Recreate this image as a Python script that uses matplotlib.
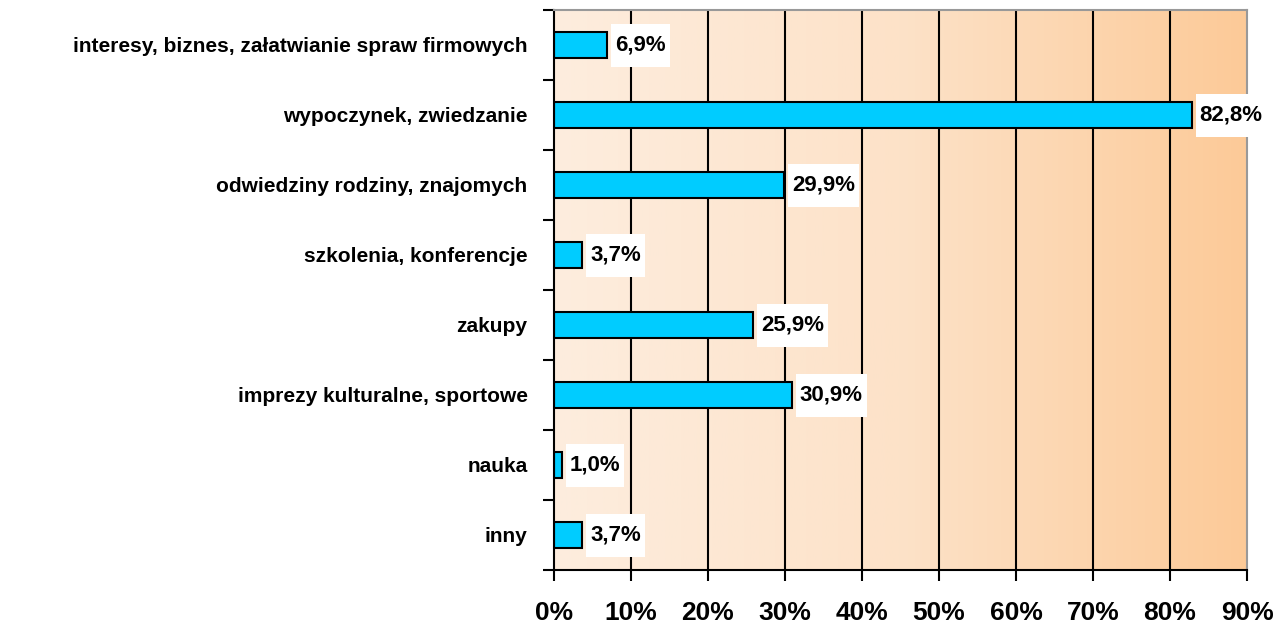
import numpy as np
import matplotlib.pyplot as plt
from matplotlib.colors import LinearSegmentedColormap
from matplotlib.patches import Rectangle
from matplotlib.transforms import IdentityTransform

plt.rcParams['font.family'] = ['Liberation Sans', 'DejaVu Sans']

categories = ["interesy, biznes, załatwianie spraw firmowych",
              "wypoczynek, zwiedzanie",
              "odwiedziny rodziny, znajomych",
              "szkolenia, konferencje",
              "zakupy",
              "imprezy kulturalne, sportowe",
              "nauka",
              "inny"]
values = [6.9, 82.8, 29.9, 3.7, 25.9, 30.9, 1.0, 3.7]
xticks = [0, 10, 20, 30, 40, 50, 60, 70, 80, 90]

fig = plt.figure(figsize=(12.87, 6.23), dpi=100)
ax = fig.add_axes([554/1287, 1 - 570/623, (1247 - 554)/1287, 560/623])

n = len(categories)
ypos = np.arange(n)

# peach gradient, light on the left, darker on the right
cmap = LinearSegmentedColormap.from_list("peach", ["#fdedde", "#fde2c8", "#fcca98"])
grad = np.linspace(0, 1, 256).reshape(1, -1)
ax.imshow(grad, cmap=cmap, aspect='auto', extent=(0, 90, n - 0.5, -0.5), zorder=0)

for x in xticks[1:-1]:
    ax.axvline(x, color='black', lw=1.5, zorder=1)

ax.barh(ypos, values, height=0.38, color='#00ccff', edgecolor='black', lw=1.5, zorder=2)

ax.set_xlim(0, 90)
ax.set_ylim(n - 0.5, -0.5)
ax.set_xticks(xticks)
ax.set_xticklabels([f"{x}%" for x in xticks], fontsize=19, fontweight='bold')
ax.set_yticks(np.arange(n + 1) - 0.5, minor=False)
ax.set_yticklabels([])
ax.set_yticks(ypos, minor=True)
ax.set_yticklabels(categories, minor=True, fontsize=15, fontweight='bold')
ax.tick_params(axis='y', which='minor', length=0, pad=19)
ax.tick_params(axis='y', which='major', length=8, width=1.5, direction='out')
ax.tick_params(axis='x', length=8, width=1.5, direction='out', pad=14)

for s in ['left', 'bottom']:
    ax.spines[s].set_color('black')
    ax.spines[s].set_linewidth(1.5)
for s in ['top', 'right']:
    ax.spines[s].set_color('#999999')
    ax.spines[s].set_linewidth(1.5)

# value labels on white boxes (taller than the text, narrow at the sides)
renderer = fig.canvas.get_renderer()
pix = IdentityTransform()
for y, v in zip(ypos, values):
    px = ax.transData.transform((v, y))
    t = ax.text(px[0] + 8, px[1], f"{v:.1f}%".replace('.', ','), va='center', ha='left',
                fontsize=16, fontweight='bold', zorder=4, transform=pix, clip_on=False)
    bb = t.get_window_extent(renderer)
    box = Rectangle((bb.x0 - 4, px[1] - 21.5), bb.width + 8, 43, transform=pix,
                    facecolor='white', edgecolor='none', zorder=3, clip_on=False)
    ax.add_artist(box)

fig.savefig("out.png", dpi=100)
